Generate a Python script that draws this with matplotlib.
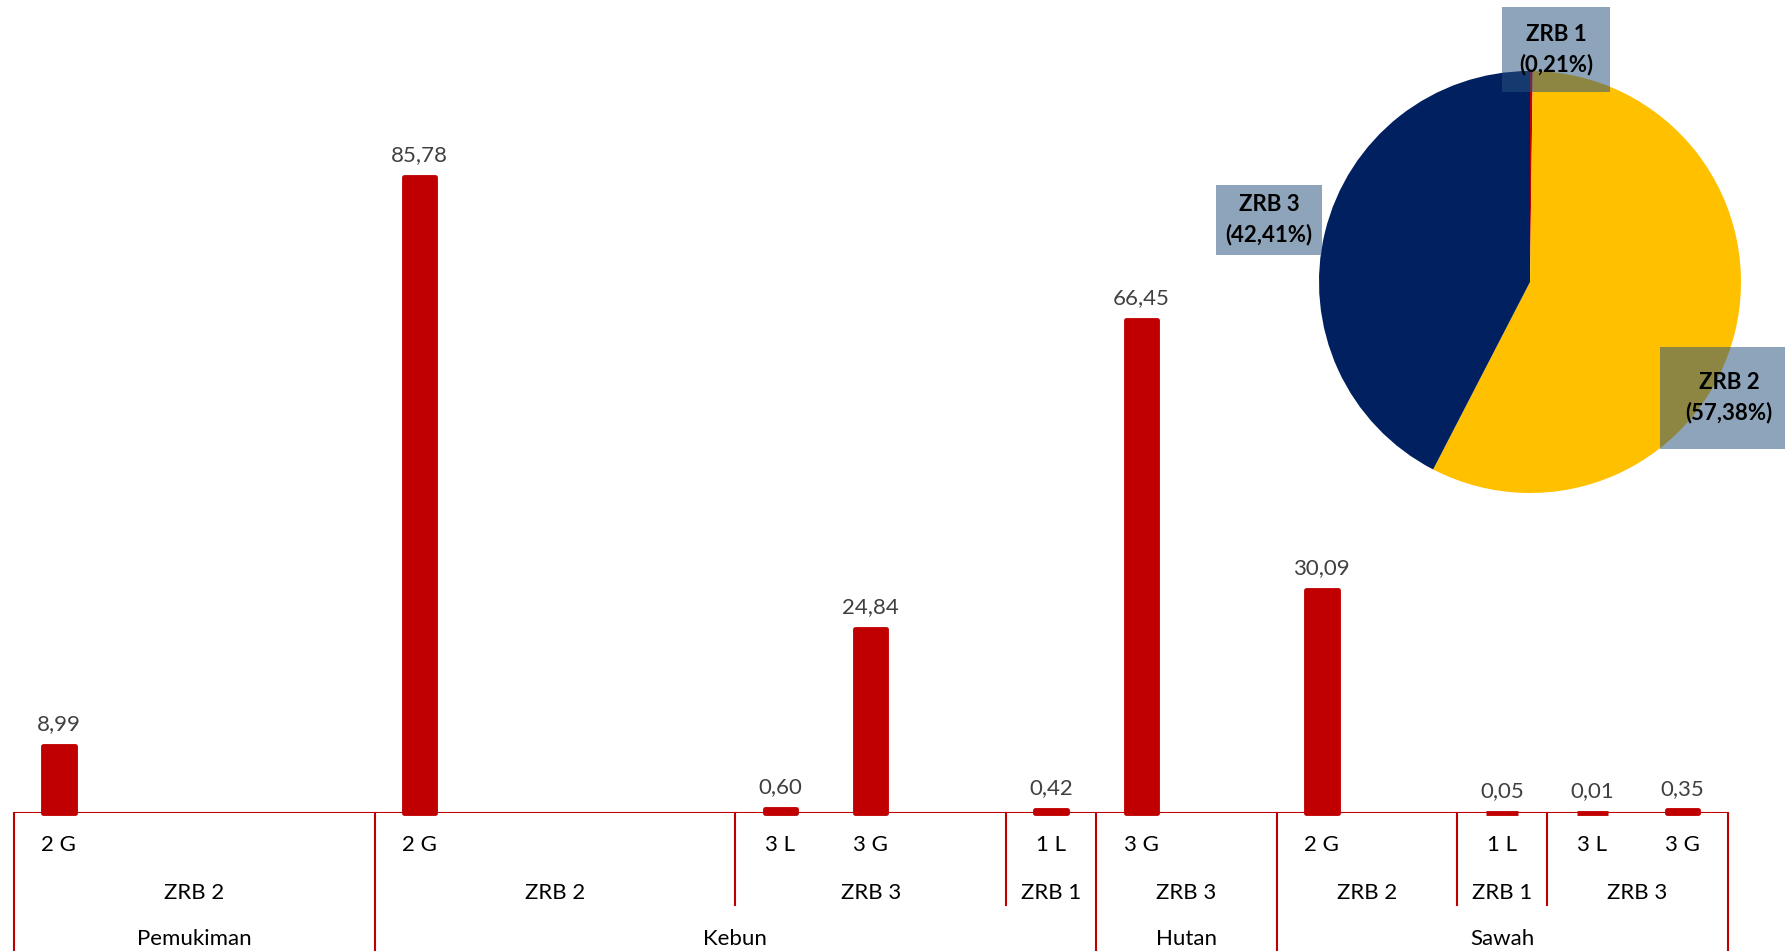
import numpy as np
import matplotlib
matplotlib.use('Agg')
import matplotlib.pyplot as plt
from matplotlib import transforms

plt.rcParams['font.family'] = ['Lato', 'DejaVu Sans']

# bar chart data: one slot per level-1 category, empty slots have no bar
slot_labels = ['2 G', '', '', '', '2 G', '', '', '', '3 L', '3 G', '', '1 L',
               '3 G', '', '2 G', '', '1 L', '3 L', '3 G']
values = [8.99, None, None, None, 85.78, None, None, None, 0.60, 24.84, None, 0.42,
          66.45, None, 30.09, None, 0.05, 0.01, 0.35]
zrb_groups = ['ZRB 2', 'ZRB 2', 'ZRB 3', 'ZRB 1', 'ZRB 3', 'ZRB 2', 'ZRB 1', 'ZRB 3']
zrb_sizes = [4, 4, 3, 1, 2, 2, 1, 2]
land_groups = ['Pemukiman', 'Kebun', 'Hutan', 'Sawah']
land_sizes = [4, 8, 2, 5]

# pie data
pie_labels = ['ZRB 1', 'ZRB 2', 'ZRB 3']
pie_values = [0.21, 57.38, 42.41]
pie_colors = ['#C00000', '#FFC000', '#002060']

red = '#C00000'
fs = 16

fig = plt.figure(figsize=(17.85, 9.51), dpi=100)
ax = fig.add_axes([13.7 / 1785, 138 / 951, 1714 / 1785, 813 / 951])
ax.set_xlim(-0.5, len(slot_labels) - 0.5)
ax.set_ylim(0, 109.6)
ax.axis('off')

# bars
xs = [i for i, v in enumerate(values) if v is not None]
hs = [v for v in values if v is not None]
ax.bar(xs, hs, width=0.35, color=red, edgecolor=red, linewidth=3.5,
       joinstyle='round', clip_on=False, zorder=3)
for x, h in zip(xs, hs):
    ax.annotate(f'{h:.2f}'.replace('.', ','), (x, h), xytext=(0, 8.5),
                textcoords='offset points', ha='center', va='bottom',
                fontsize=fs, color='#404040')

# axis line and category labels
ax.axhline(0, color=red, lw=1.5, zorder=2)
trans = transforms.blended_transform_factory(ax.transData, ax.transAxes)
y1, y2, y3 = -0.039, -0.098, -0.155
y_short, y_full = -0.113, -0.175

for i, lab in enumerate(slot_labels):
    ax.text(i, y1, lab, transform=trans, ha='center', va='center', fontsize=fs)

land_edges = list(np.cumsum([0] + land_sizes) - 0.5)
zrb_edges = list(np.cumsum([0] + zrb_sizes) - 0.5)

start = -0.5
for lab, n in zip(zrb_groups, zrb_sizes):
    ax.text(start + n / 2, y2, lab, transform=trans, ha='center', va='center', fontsize=fs)
    start += n
start = -0.5
for lab, n in zip(land_groups, land_sizes):
    ax.text(start + n / 2, y3, lab, transform=trans, ha='center', va='center', fontsize=fs)
    start += n

for e in zrb_edges:
    if e in land_edges:
        continue
    ax.plot([e, e], [0, y_short], transform=trans, color=red, lw=1.5, clip_on=False)
for e in land_edges:
    ax.plot([e, e], [0, y_full], transform=trans, color=red, lw=1.5, clip_on=False)

# pie
pax = fig.add_axes([(1530 - 211) / 1785, (669 - 211) / 951, 422 / 1785, 422 / 951])
pax.pie(pie_values, colors=pie_colors, startangle=90, counterclock=False,
        radius=1, wedgeprops=dict(linewidth=0))
pax.set_xlim(-1, 1)
pax.set_ylim(-1, 1)
pax.set_aspect('equal')
pax.axis('off')

label_pos = [(0.123, 1.10), (0.943, -0.55), (-1.237, 0.294)]
label_pad = [0.75, 1.15, 0.42]
for lab, v, (lx, ly), pad in zip(pie_labels, pie_values, label_pos, label_pad):
    pax.text(lx, ly, f'{lab}\n({v:.2f}%)'.replace('.', ','), ha='center', va='center',
             fontsize=fs, fontweight='bold', color='black', linespacing=1.5,
             bbox=dict(boxstyle=f'square,pad={pad}', facecolor='#295380', alpha=0.53,
                       edgecolor='none'), clip_on=False, zorder=5)

fig.savefig('out.png', dpi=100)
